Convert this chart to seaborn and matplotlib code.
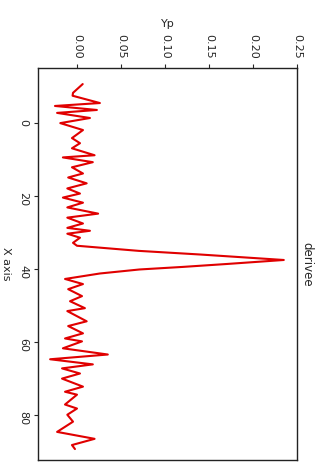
import matplotlib
matplotlib.use("Agg")
import matplotlib.pyplot as plt
import seaborn as sns
import numpy as np
import pandas as pd

x_axis = [-10.7, -8.3, -7.5, -5.5, -4.7, -3.6, -2.8, -1.4, 0.0, 1.9, 4.1, 5.5,
          6.9, 8.8, 9.4, 10.7, 12.1, 13.8, 14.9, 16.5, 17.9, 19.3, 20.4,
          21.8, 23.1, 24.8, 25.9, 27.5, 28.7, 29.5, 30.3, 31.4, 32.8, 33.6,
          35.0, 36.0, 37.5, 38.6, 39.4, 40.1, 41.2, 42.7, 44.1, 45.5, 47.4,
          48.8, 50.7, 51.5, 54.3, 55.6, 57.6, 59.0, 59.8, 61.7, 63.4, 64.7,
          66.1, 67.2, 68.6, 70.0, 72.2, 73.6, 74.4, 77.1, 78.2, 79.9, 81.8,
          84.6, 86.5, 88.2, 89.3]
yp = [0.0065, -0.0045, -0.005, 0.026, -0.025, 0.0226, -0.0226, 0.0147,
      -0.019, 0.0068, -0.0057, 0.0034, -0.0057, 0.020, -0.016, 0.018,
      -0.0057, 0.0068, -0.010, 0.011, -0.011, 0.0034, -0.016, 0.0068,
      -0.011, 0.024, -0.011, 0.0068, -0.011, 0.0147, -0.011, 0.0034,
      -0.0045, 0.0, 0.07, 0.14, 0.235, 0.17, 0.12, 0.071, 0.026, -0.0136,
      0.0068, -0.010, 0.0057, -0.0079, 0.009, -0.011, 0.011, -0.010,
      0.0068, -0.0136, 0.0057, -0.016, 0.035, -0.0305, 0.018, -0.017,
      0.0034, -0.017, 0.0068, -0.0136, 0.0, -0.0136, 0.0, -0.011, -0.0045,
      -0.0226, 0.020, -0.0057, -0.0023]

xticks = [0, 20, 40, 60, 80]
yticks = [0.00, 0.05, 0.10, 0.15, 0.20, 0.25]

df = pd.DataFrame({"X axis": x_axis, "Yp": yp})

sns.set_style("ticks")
plt.rcParams["font.family"] = ["DejaVu Sans"]

fig = plt.figure(figsize=(3.23, 4.63), dpi=100)
ax = fig.add_axes([38 / 323, 3 / 463, 259 / 323, 392 / 463])

# chart is drawn turned a quarter turn: Yp runs left->right, X runs top->down
sns.lineplot(data=df, x="Yp", y="X axis", orient="y", sort=False,
             color="#e00000", linewidth=1.5, ax=ax)

ax.set_xlim(-0.0443, 0.25)
ax.set_ylim(92.3, -15.1)

ax.xaxis.tick_top()
ax.xaxis.set_label_position("top")
ax.set_xticks(yticks)
ax.set_xticklabels([f"{t:.2f}" for t in yticks])
ax.set_yticks(xticks)
ax.tick_params(axis="x", labelrotation=-90, labelsize=8, length=3, pad=4)
ax.tick_params(axis="y", labelrotation=-90, labelsize=8, length=3, pad=4)

ax.set_xlabel("Yp", fontsize=8, labelpad=5)
ax.set_ylabel("X axis", fontsize=8, rotation=-90, labelpad=9, va="center")

for s in ax.spines.values():
    s.set_visible(True)
    s.set_color("#222222")
    s.set_linewidth(1.0)

ax.text(1.04, 0.5, "derivee", transform=ax.transAxes, rotation=-90,
        ha="center", va="center", fontsize=8.5)

fig.savefig("out.png", dpi=100)
